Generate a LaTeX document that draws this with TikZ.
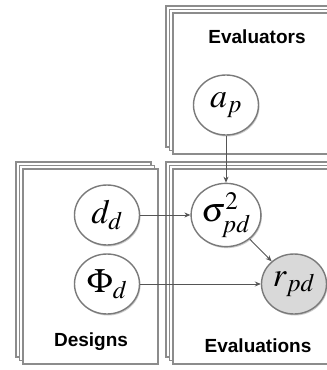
\RequirePackage{fix-cm}
\documentclass[tikz,border=0pt]{standalone}
\usepackage{fontspec}
\setsansfont{Liberation Sans}
\usepackage{mathptmx}
\usepackage{tikz}
\usetikzlibrary{arrows.meta,positioning,shapes.geometric,shadows}
\definecolor{plategray}{HTML}{8C8C8C}
\definecolor{nodegray}{HTML}{7A7A7A}
\definecolor{linegray}{HTML}{555555}
\definecolor{observed}{HTML}{D9D9D9}
\tikzset{
  plate/.style={draw=plategray, line width=1.7pt, fill=white, rectangle, anchor=north west,
    double copy shadow={shadow xshift=-3.5pt, shadow yshift=3.5pt, draw=plategray, line width=1.7pt, fill=white}},
  platelabel/.style={font=\sffamily\bfseries\fontsize{19}{21}\selectfont},
  var/.style={draw=nodegray, line width=1.4pt, fill=white, ellipse, minimum width=65pt, minimum height=60pt, inner sep=0pt,
    font=\fontsize{34}{38}\selectfont, drop shadow={shadow xshift=1pt, shadow yshift=-1.5pt, opacity=0.4}},
  obs/.style={var, fill=observed},
  arrow/.style={-{Stealth[length=6pt,width=5pt]}, line width=0.9pt, draw=linegray}
}
\begin{document}
\begin{tikzpicture}[x=1pt,y=-1pt]
  \useasboundingbox (0,0) rectangle (327,370);
  \clip (0,0) rectangle (327,370);
  % plates
  \node[plate, minimum width=170pt, minimum height=141pt] (evaluators) at (172,12) {};
  \node[plate, minimum width=135pt, minimum height=195pt] (designs) at (22,168) {};
  \node[plate, minimum width=170pt, minimum height=195pt] (evaluations) at (172,168) {};
  \node[platelabel] (evaluatorslbl) at (257,37) {Evaluators};
  \node[platelabel] (designslbl) at (91,342) {Designs};
  \node[platelabel] (evaluationslbl) at (258,346) {Evaluations};

  % variables
  \node[var] (ap) at (226,105) {$a_p$};
  \node[var] (sigma) at (226,215) {$\sigma^2_{pd}$};
  \node[var] (dd) at (107,215) {$d_d$};
  \node[var] (phi) at (107,284) {$\Phi_d$};
  \node[obs] (rpd) at (294,284) {$r_{pd}$};

  \draw[arrow] (ap) -- (sigma);
  \draw[arrow] (dd) -- (sigma);
  \draw[arrow] (sigma) -- (rpd);
  \draw[arrow] (phi) -- (rpd);
\end{tikzpicture}
\end{document}
